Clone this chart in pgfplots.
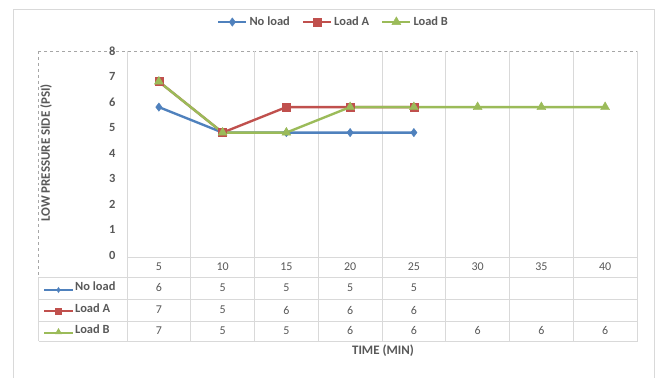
\documentclass[border=0pt]{standalone}
\usepackage{pgfplots}
\pgfplotsset{compat=1.18}
\usepackage{pgfplotstable}
\usetikzlibrary{shapes.geometric}
\usepackage{fontspec}
\setmainfont{Carlito}

\definecolor{sblue}{HTML}{4F81BD}
\definecolor{sred}{HTML}{C0504D}
\definecolor{sgreen}{HTML}{9BBB59}
\definecolor{txt}{HTML}{595959}
\definecolor{gridc}{HTML}{D9D9D9}
\definecolor{dashc}{HTML}{A6A6A6}

% idx = category position, t = time in minutes
\pgfplotstableread{
idx t  noload loadA loadB
0   5  5.8    6.8   6.8
1   10 4.8    4.8   4.8
2   15 4.8    5.8   4.8
3   20 4.8    5.8   5.8
4   25 4.8    5.8   5.8
5   30 nan    nan   5.8
6   35 nan    nan   5.8
7   40 nan    nan   5.8
}\data

\newcommand{\tabfont}{\fontsize{12}{14}\selectfont}
\newcommand{\labfont}{\fontsize{12.5}{14}\selectfont\bfseries}

\begin{document}
\begin{tikzpicture}
\path[use as bounding box] (0bp,0bp) rectangle (664bp,-378bp);
\fill[white] (0bp,0bp) rectangle (664bp,-378bp);
% chart frame
\draw[gridc, line width=1bp] (13.5bp,-380bp) -- (13.5bp,-9.5bp) -- (654.5bp,-9.5bp) -- (654.5bp,-380bp);
% plot-area outline
\draw[dashc, dashed, line width=0.6bp] (38.5bp,-51bp) rectangle (637.5bp,-341bp);
% vertical grid lines through plot area and data table
\foreach \c in {0,...,8} {
  \draw[gridc, line width=1bp] ({127bp+\c*63.75bp},-51bp) -- ({127bp+\c*63.75bp},-341bp);
}
% data table rules
\draw[gridc, line width=1bp] (127bp,-257bp) -- (637.5bp,-257bp);
\foreach \r in {277,299,321,341} {
  \draw[gridc, line width=1bp] (38.5bp,-\r bp) -- (637.5bp,-\r bp);
}
\draw[gridc, line width=1bp] (38.5bp,-277bp) -- (38.5bp,-341bp);

% row headers of the data table
\draw[sblue, line width=2bp] (44bp,-290bp) -- (73bp,-290bp)
  node[midway, diamond, fill=sblue, inner sep=0pt, minimum width=5bp, minimum height=7bp] {};
\draw[sred, line width=2bp] (44bp,-311bp) -- (73bp,-311bp)
  node[midway, rectangle, fill=sred, inner sep=0pt, minimum size=7bp] {};
\draw[sgreen, line width=2bp] (44bp,-333bp) -- (73bp,-333bp)
  node[midway, regular polygon, regular polygon sides=3, fill=sgreen, inner sep=0pt, minimum size=8bp, yshift=1bp] {};
\node[anchor=west, font=\labfont, text=txt, inner sep=0pt] at (75bp,-286bp) {No load};
\node[anchor=west, font=\labfont, text=txt, inner sep=0pt] at (75bp,-308bp) {Load A};
\node[anchor=west, font=\labfont, text=txt, inner sep=0pt] at (75bp,-329bp) {Load B};

% axis titles
\node[rotate=90, font=\fontsize{13}{15}\selectfont\bfseries, text=txt] at (46bp,-153bp) {LOW PRESSURE SIDE (PSI)};
\node[font=\fontsize{13}{15}\selectfont\bfseries, text=txt] at (383bp,-351bp) {TIME (MIN)};

\begin{axis}[
  at={(127bp,-255bp)}, anchor=south west,
  scale only axis, width=510bp, height=204bp,
  xmin=-0.5, xmax=7.5, ymin=0, ymax=8,
  axis line style={draw=none},
  xtick=\empty,
  ytick={0,1,...,8},
  major tick length=0pt,
  /pgf/number format/assume math mode=true,
  yticklabel style={font=\labfont, text=txt, xshift=-8bp},
  clip=false,
  legend columns=3,
  legend cell align=left,
  legend style={at={(0.405,1.142)}, anchor=center, draw=none, fill=none,
    font=\labfont, text=txt,
    /tikz/every even column/.append style={column sep=10bp}},
  legend image code/.code={\draw[mark repeat=2, mark phase=2] plot coordinates {(0bp,0bp) (14bp,0bp) (28bp,0bp)};},
  every node near coord/.append style={anchor=center, font=\tabfont, text=txt, inner sep=0pt},
]
\addplot[sblue, line width=2.4bp, mark=diamond*, mark size=4.2bp, mark options={solid, fill=sblue, line width=0.4bp}]
  table[x=idx, y=noload] {\data};
\addlegendentry{No load}
\addplot[sred, line width=2.4bp, mark=square*, mark size=4bp, mark options={solid, fill=sred, line width=0.4bp}]
  table[x=idx, y=loadA] {\data};
\addlegendentry{Load A}
\addplot[sgreen, line width=2.4bp, mark=triangle*, mark size=5.2bp, mark options={solid, fill=sgreen, line width=0.4bp}]
  table[x=idx, y=loadB] {\data};
\addlegendentry{Load B}

% data table: header row and values, rounded to whole numbers
\addplot[draw=none, forget plot, point meta=explicit,
  nodes near coords={\pgfmathprintnumber[fixed,precision=0]{\pgfplotspointmeta}}]
  table[x=idx, y expr=-0.47, meta=t] {\data};
\addplot[draw=none, forget plot, point meta=explicit, skip coords between index={5}{8},
  nodes near coords={\pgfmathprintnumber[fixed,precision=0]{\pgfplotspointmeta}}]
  table[x=idx, y expr=-1.294, meta=noload] {\data};
\addplot[draw=none, forget plot, point meta=explicit, skip coords between index={5}{8},
  nodes near coords={\pgfmathprintnumber[fixed,precision=0]{\pgfplotspointmeta}}]
  table[x=idx, y expr=-2.157, meta=loadA] {\data};
\addplot[draw=none, forget plot, point meta=explicit,
  nodes near coords={\pgfmathprintnumber[fixed,precision=0]{\pgfplotspointmeta}}]
  table[x=idx, y expr=-2.98, meta=loadB] {\data};
\end{axis}
\end{tikzpicture}
\end{document}
